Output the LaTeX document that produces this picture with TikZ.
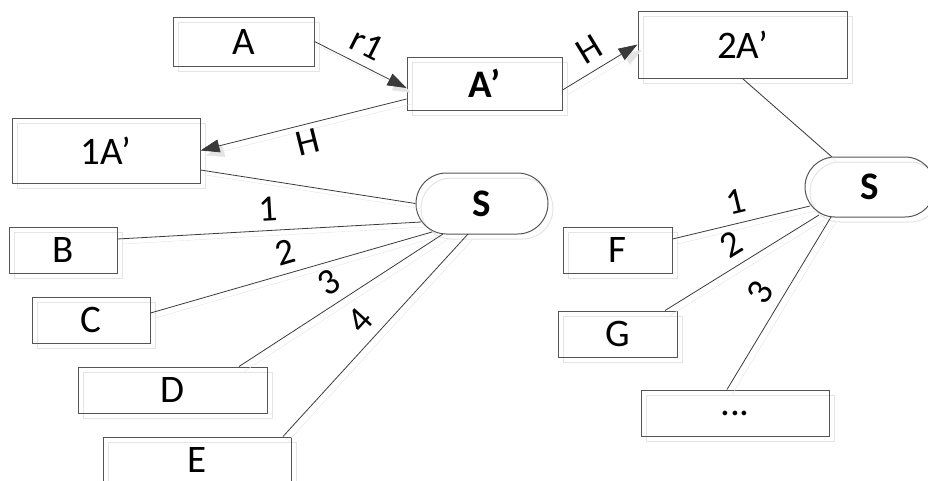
\documentclass[tikz,border=0pt]{standalone}
\usepackage{fontspec}
\setmainfont{Carlito}
\usepackage{xcolor}
\definecolor{diaLine}{HTML}{3A3A3A}
\definecolor{diaBorder}{HTML}{555555}
\definecolor{diaShade}{HTML}{E4E4E4}
\usetikzlibrary{arrows.meta,calc,shapes.misc}
\tikzset{
    box/.style={
        draw=diaBorder,
        rectangle,
        line width=1pt,
        inner sep=0pt,
        font=\fontsize{39}{42}\selectfont,
        preaction={draw=diaShade, transform canvas={shift={(5pt,-5pt)}}}
    },
    hub/.style={
        box,
        rounded rectangle,
        font=\fontsize{39}{42}\selectfont\bfseries
    },
    link/.style={
        draw=diaLine,
        line width=0.8pt,
        preaction={draw=diaShade, transform canvas={shift={(5pt,-5pt)}}}
    },
    arrow/.style={
        link,
        -{Triangle[length=19pt,width=13pt]}
    },
    tag/.style={
        font=\fontsize{37}{40}\selectfont,
        midway,
        sloped,
        above=8pt,
        inner sep=1pt
    }
}
\begin{document}
\begin{tikzpicture}[x=1pt, y=-1pt]
    \useasboundingbox (0,0) rectangle (928,480);

    % Top row
    \node[box, minimum width=141pt, minimum height=49pt] (a) at (243.5,41.5) {A};
    \node[box, minimum width=155pt, minimum height=53pt, font=\fontsize{39}{42}\selectfont\bfseries] (ap) at (484.5,83.5) {A’};
    \node[box, minimum width=209pt, minimum height=67pt] (a2) at (742.5,44.5) {2A’};
    \node[box, minimum width=188pt, minimum height=65pt] (a1) at (106,150.5) {1A’};

    % Left group
    \node[hub, minimum width=132pt, minimum height=61pt] (s1) at (482,203.5) {S};
    \node[box, minimum width=108pt, minimum height=46pt] (b) at (63,250) {B};
    \node[box, minimum width=118pt, minimum height=46pt] (c) at (91,320) {C};
    \node[box, minimum width=189pt, minimum height=46pt] (d) at (172.5,390) {D};
    \node[box, minimum width=188pt, minimum height=46pt] (e) at (197,460) {E};

    % Right group
    \node[hub, minimum width=130pt, minimum height=60pt] (s2) at (870,187) {S};
    \node[box, minimum width=109pt, minimum height=46pt] (f) at (617.5,250) {F};
    \node[box, minimum width=119pt, minimum height=46pt] (g) at (617.5,334) {G};
    \node[box, minimum width=188pt, minimum height=46pt] (dots) at (735,413) {...};

    % Arrows
    \draw[arrow] (a.east) -- node[tag, pos=0.47] {r1} ($(ap.west)+(0,4.5)$);
    \draw[arrow] ($(ap.east)+(0,6.5)$) -- node[tag] {H} (a2.west);
    \draw[arrow] ($(ap.west)+(0,15.5)$) -- node[tag, pos=0.5, below=13pt] {H} (a1.east);

    % Spokes
    \draw[link] ($(a1.east)+(0,19.5)$) -- (s1.west);
    \foreach \src/\sx/\sy/\dx/\dy/\num in {b.east/0/-11/-61/18.5/1, c.east/0/-7/-50/28.5/2,
                                          d.north/66.5/0/-39/30.5/3, e.north/86/0/-14/30.5/4} {
        \draw[link] ($(\src)+(\sx,\sy)$) -- node[tag] {\num} ($(s1)+(\dx,\dy)$);
    }
    \draw[link] (a2.south) -- ($(s2)+(-38,-30)$);
    \foreach \src/\sx/\sy/\dx/\dy/\num in {f.east/0/-11/-60/19/1, g.north/47.5/0/-51/28/2,
                                          dots.north/-8/0/-39/30/3} {
        \draw[link] ($(\src)+(\sx,\sy)$) -- node[tag] {\num} ($(s2)+(\dx,\dy)$);
    }
\end{tikzpicture}
\end{document}
